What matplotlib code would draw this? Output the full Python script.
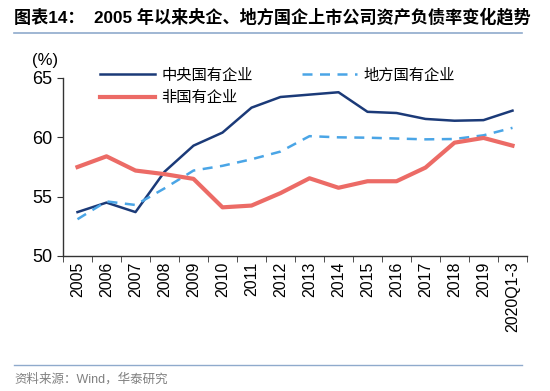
import numpy as np
import matplotlib
matplotlib.use("Agg")
import matplotlib.pyplot as plt
from matplotlib.lines import Line2D

plt.rcParams['font.family'] = ['Liberation Sans', 'Noto Sans CJK SC']

# data
years = ['2005', '2006', '2007', '2008', '2009', '2010', '2011', '2012', '2013',
         '2014', '2015', '2016', '2017', '2018', '2019', '2020Q1-3']
central_soe = [53.7, 54.5, 53.7, 57.1, 59.3, 60.4, 62.5, 63.4, 63.6,
               63.8, 62.15, 62.05, 61.55, 61.4, 61.45, 62.25]
local_soe = [53.1, 54.6, 54.3, 55.7, 57.2, 57.6, 58.15, 58.8, 60.1,
             60.0, 59.97, 59.9, 59.83, 59.86, 60.17, 60.8]
non_soe = [57.5, 58.4, 57.2, 56.9, 56.5, 54.1, 54.25, 55.3, 56.55,
           55.75, 56.3, 56.3, 57.45, 59.55, 59.95, 59.3]
names = ['中央国有企业', '地方国有企业', '非国有企业']

navy = '#1B3A78'
light_blue = '#4AA5E6'
red = '#EC6B66'

fig = plt.figure(figsize=(5.5, 3.91), dpi=100)
ax = fig.add_axes([63 / 550, 1 - 256 / 391, (527 - 63) / 550, (256 - 78) / 391])

x = np.arange(len(years))
l_c, = ax.plot(x, central_soe, color=navy, lw=1.8, label=names[0])
l_l, = ax.plot(x, local_soe, color=light_blue, lw=1.8, ls=(0, (4, 3)), label=names[1])
l_n, = ax.plot(x, non_soe, color=red, lw=3.0, label=names[2])

ax.set_xlim(-0.5, len(years) - 0.5)
ax.set_ylim(50, 65)
ax.set_yticks([50, 55, 60, 65])
ax.set_xticks(x)
ax.set_xticklabels(years, rotation=90, fontsize=11.5)
ax.set_xticks(np.arange(len(years) + 1) - 0.5, minor=True)
ax.tick_params(axis='x', which='major', length=0, pad=4)
ax.tick_params(axis='x', which='minor', length=4, direction='out', color='#333333')
ax.tick_params(axis='y', length=4, direction='out', labelsize=13, color='#333333')
for s in ['top', 'right']:
    ax.spines[s].set_visible(False)
for s in ['left', 'bottom']:
    ax.spines[s].set_color('#333333')
    ax.spines[s].set_linewidth(1.0)

fig.text(45 / 550, 1 - 60 / 391, '(%)', fontsize=12, ha='center', va='center')

ax.legend(handles=[l_c, l_n, l_l], ncol=2, frameon=False, loc='upper left',
          bbox_to_anchor=(86 / 550, 1 - 53 / 391), bbox_transform=fig.transFigure,
          prop={'family': 'Noto Sans CJK SC', 'size': 11},
          handlelength=3.6, handletextpad=0.45, columnspacing=3.2, labelspacing=0.35)

# title, rules and source
fig.text(14 / 550, 1 - 17 / 391, '图表14：  2005 年以来央企、地方国企上市公司资产负债率变化趋势',
         fontsize=12.3, fontweight='bold', ha='left', va='center')
fig.add_artist(Line2D([14 / 550, 522 / 550], [1 - 33 / 391, 1 - 33 / 391],
                      color='#8FAACC', lw=1.2))
fig.add_artist(Line2D([14 / 550, 522 / 550], [1 - 365 / 391, 1 - 365 / 391],
                      color='#8FAACC', lw=1.0))
fig.text(14 / 550, 1 - 379 / 391, '资料来源：Wind，华泰研究', fontsize=9,
         color='#808080', ha='left', va='center')

fig.savefig('out.png', dpi=100)
